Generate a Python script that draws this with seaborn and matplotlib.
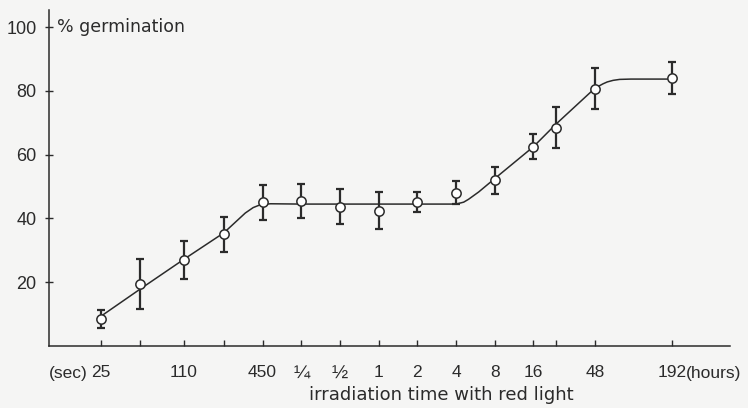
import numpy as np
import pandas as pd
import seaborn as sns
import matplotlib.pyplot as plt

# irradiation times (seconds) of the measured points
times = [25, 50, 110, 225, 450, 900, 1800, 3600, 7200, 14400,
         28800, 57600, 86400, 172800, 691200]
germination = [8.5, 19.5, 27, 35, 45, 45.5, 43.7, 42.4, 45.2, 48,
               52, 62.5, 68.4, 80.7, 84]
err = [2.8, 7.8, 6, 5.5, 5.6, 5.3, 5.6, 5.8, 3.1, 3.6,
       4.2, 4, 6.4, 6.4, 5]

tick_labels = ["25", "", "110", "", "450", "\u00bc", "\u00bd", "1", "2", "4",
               "8", "16", "", "48", "192"]

# fitted curve
curve_t = [25, 50, 110, 225, 330, 380, 420, 450, 520, 900, 3600, 14400,
           16500, 18000, 21600, 28800, 57600, 86400, 172800, 200000,
           216000, 240000, 270000, 330000, 691200]
curve_v = [9.4, 17.8, 27.2, 35.5, 41.7, 43.4, 44.1, 44.4, 44.6, 44.5, 44.5, 44.5,
           45.1, 46, 48.3, 52.5, 62.5, 69.6, 80.8, 82.2,
           82.8, 83.3, 83.6, 83.7, 83.7]

pts = pd.DataFrame({"t": times, "g": germination, "e": err})
curve = pd.DataFrame({"t": curve_t, "v": curve_v})

sns.set_style("ticks")
plt.rcParams["font.family"] = ["Liberation Sans", "DejaVu Sans"]
ink = "#2b2b2b"
paper = "#f5f5f4"

fig = plt.figure(figsize=(7.48, 4.08), dpi=100, facecolor=paper)
ax = fig.add_axes([0.0655, 0.152, 0.9105, 0.823])
ax.set_facecolor(paper)

sns.lineplot(data=curve, x="t", y="v", ax=ax, color=ink, linewidth=1.1, zorder=2)
ax.errorbar(pts["t"], pts["g"], yerr=pts["e"], fmt="none", ecolor=ink,
            elinewidth=1.6, capsize=3.2, capthick=1.6, zorder=3)
sns.scatterplot(data=pts, x="t", y="g", ax=ax, marker="o", s=45,
                facecolor="white", edgecolor=ink, linewidth=1.1, zorder=4)

ax.set_xscale("log", base=2)
ax.set_xlim(9.8, 1.95e6)
ax.set_ylim(0, 105.3)
ax.set_xticks(times)
ax.set_xticklabels(tick_labels)
ax.minorticks_off()
ax.set_yticks([20, 40, 60, 80, 100])
ax.tick_params(axis="x", direction="in", length=4, width=1, color=ink,
               labelsize=12.5, labelcolor=ink, pad=14)
ax.tick_params(axis="y", direction="inout", length=6, width=1, color=ink,
               labelsize=13, labelcolor=ink, pad=6)
for lab in ax.get_xticklabels():
    if lab.get_text() in ("\u00bc", "\u00bd"):
        lab.set_fontsize(14)

for s in ("top", "right"):
    ax.spines[s].set_visible(False)
for s in ("left", "bottom"):
    ax.spines[s].set_color(ink)
    ax.spines[s].set_linewidth(1.1)
ax.set_xlabel("")
ax.set_ylabel("")

ax.annotate("(sec)", xy=(25, 0), xycoords=("data", "data"), xytext=(-9.5, -19.5),
            textcoords="offset points", ha="right", va="center",
            fontsize=12.5, color=ink)
ax.annotate("(hours)", xy=(691200, 0), xycoords=("data", "data"), xytext=(10, -19.5),
            textcoords="offset points", ha="left", va="center",
            fontsize=12.5, color=ink)
ax.text(0.012, 100, "% germination", transform=ax.get_yaxis_transform(),
        ha="left", va="center", fontsize=12.5, color=ink, family="DejaVu Sans")
fig.text(0.59, 0.032, "irradiation time with red light", ha="center", va="center",
         fontsize=13, color=ink, family="DejaVu Sans")

fig.savefig("out.png", dpi=100, facecolor=paper)
